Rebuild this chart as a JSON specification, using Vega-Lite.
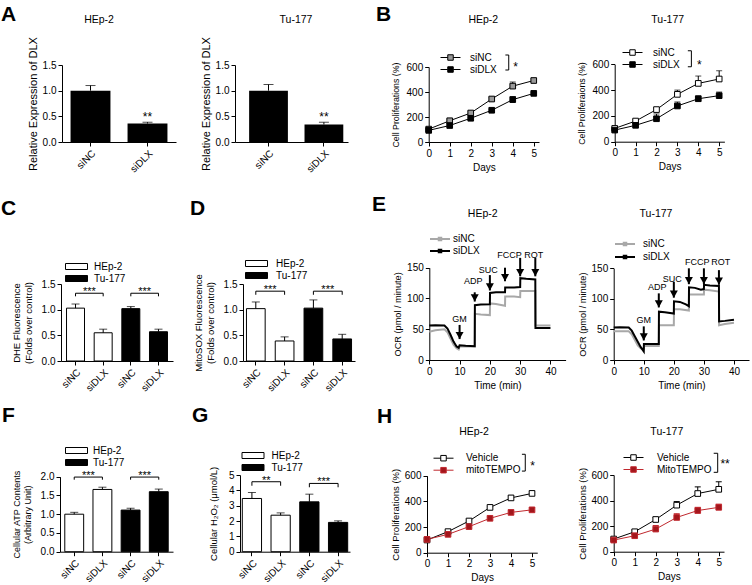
{
"$schema": "https://vega.github.io/schema/vega-lite/v6.json",
"padding": 0,
"background": "white",
"spacing": 0,
"resolve": {"scale": {"x":"independent","y":"independent","fill":"independent","stroke":"independent","color":"independent","shape":"independent","size":"independent","opacity":"independent"}},
"vconcat": [
{
"bounds": "flush", "spacing": 0,
"resolve": {"scale": {"x":"independent","y":"independent","fill":"independent","stroke":"independent","color":"independent","shape":"independent","size":"independent","opacity":"independent"}},
"hconcat": [
{"width":0.01,"height":192,"data":{"values":[]},"mark":"point","title":{"text":"A","anchor":"start","fontSize":21,"fontWeight":"bold","dx":1,"offset":-25.4}},
{"width":187,"height":192,
 "title":{"text":"HEp-2","dx":4.5,"offset":-25.2},
 "data":{"values":[{"grp":"siNC","v":1.0,"hi":1.1,"sig":""},{"grp":"siDLX","v":0.36,"hi":0.385,"sig":"**"}]},
 "encoding":{
  "x":{"field":"grp","type":"nominal","scale":{"domain":["siNC","siDLX"],"range":[61,175],"paddingInner":0.3,"paddingOuter":0.15},"axis":{"title":null,"labelAngle":-45,"offset":-50}},
  "y":{"field":"v","type":"quantitative","scale":{"domain":[0,1.5],"range":[142,65],"nice":false},"axis":{"title":"Relative Expression of DLX","values":[0,0.5,1,1.5],"format":".1f","offset":-61,"titleFontSize":11}}},
 "layer":[
  {"mark":{"type":"bar","color":"#000"}},
  {"mark":{"type":"rule","color":"#000"},"encoding":{"y2":{"field":"hi"}}},
  {"mark":{"type":"tick","color":"#000","size":10,"thickness":1},"encoding":{"y":{"field":"hi","type":"quantitative","scale":{"domain":[0,1.5],"range":[142,65],"nice":false},"axis":{"title":"Relative Expression of DLX","values":[0,0.5,1,1.5],"format":".1f","offset":-61,"titleFontSize":11}}}},
  {"mark":{"type":"text","baseline":"middle","dy":-5,"fontSize":12},"encoding":{"y":{"field":"hi","type":"quantitative","scale":{"domain":[0,1.5],"range":[142,65],"nice":false},"axis":{"title":"Relative Expression of DLX","values":[0,0.5,1,1.5],"format":".1f","offset":-61,"titleFontSize":11}},"text":{"field":"sig"}}}
 ]},
{"width":183,"height":192,
 "title":{"text":"Tu-177","dx":16.5,"offset":-25.2},
 "data":{"values":[{"grp":"siNC","v":1.0,"hi":1.12,"sig":""},{"grp":"siDLX","v":0.34,"hi":0.385,"sig":"**"}]},
 "encoding":{
  "x":{"field":"grp","type":"nominal","scale":{"domain":["siNC","siDLX"],"range":[47,160],"paddingInner":0.3,"paddingOuter":0.17,"align":0.75},"axis":{"title":null,"labelAngle":-45,"offset":-50}},
  "y":{"field":"v","type":"quantitative","scale":{"domain":[0,1.5],"range":[142,65],"nice":false},"axis":{"title":"Relative Expression of DLX","values":[0,0.5,1,1.5],"format":".1f","offset":-47,"titleFontSize":11}}},
 "layer":[
  {"mark":{"type":"bar","color":"#000"}},
  {"mark":{"type":"rule","color":"#000"},"encoding":{"y2":{"field":"hi"}}},
  {"mark":{"type":"tick","color":"#000","size":10,"thickness":1},"encoding":{"y":{"field":"hi","type":"quantitative","scale":{"domain":[0,1.5],"range":[142,65],"nice":false},"axis":{"title":"Relative Expression of DLX","values":[0,0.5,1,1.5],"format":".1f","offset":-47,"titleFontSize":11}}}},
  {"mark":{"type":"text","baseline":"middle","dy":-5,"fontSize":12},"encoding":{"y":{"field":"hi","type":"quantitative","scale":{"domain":[0,1.5],"range":[142,65],"nice":false},"axis":{"title":"Relative Expression of DLX","values":[0,0.5,1,1.5],"format":".1f","offset":-47,"titleFontSize":11}},"text":{"field":"sig"}}}
 ]},
{"width":0.01,"height":192,"data":{"values":[]},"mark":"point","title":{"text":"B","anchor":"start","fontSize":21,"fontWeight":"bold","dx":5,"offset":-25.4}},
{"width":190,"height":192,
 "title":{"text":"HEp-2","dx":16.3,"offset":-25.2},
 "data":{"values":[
  {"day":0,"g":"siNC","v":103,"hi":110},{"day":1,"g":"siNC","v":170,"hi":178},{"day":2,"g":"siNC","v":232,"hi":242},{"day":3,"g":"siNC","v":344,"hi":354},{"day":4,"g":"siNC","v":447,"hi":480},{"day":5,"g":"siNC","v":492,"hi":505},
  {"day":0,"g":"siDLX","v":93,"hi":98},{"day":1,"g":"siDLX","v":132,"hi":137},{"day":2,"g":"siDLX","v":190,"hi":196},{"day":3,"g":"siDLX","v":254,"hi":259},{"day":4,"g":"siDLX","v":339,"hi":364},{"day":5,"g":"siDLX","v":389,"hi":395}]},
 "encoding":{
  "x":{"field":"day","type":"quantitative","scale":{"domain":[0,5.25],"range":[56.7,167],"nice":false,"zero":false},"axis":{"title":"Days","values":[0,1,2,3,4,5],"format":"d","offset":-50,"titleFontSize":10}},
  "y":{"field":"v","type":"quantitative","scale":{"domain":[0,600],"range":[142,67],"nice":false},"axis":{"title":"Cell Proliferations (%)","values":[0,200,400,600],"offset":-56.7,"titlePadding":6,"titleFontSize":8.8}}},
 "layer":[
  {"mark":{"type":"line","color":"#000","strokeWidth":1},"encoding":{"detail":{"field":"g","type":"nominal"}}},
  {"mark":{"type":"rule","color":"#000"},"encoding":{"y2":{"field":"hi"}}},
  {"mark":{"type":"tick","orient":"horizontal","color":"#000","size":6,"thickness":1},"encoding":{"y":{"field":"hi","type":"quantitative","scale":{"domain":[0,600],"range":[142,67],"nice":false},"axis":{"title":"Cell Proliferations (%)","values":[0,200,400,600],"offset":-56.7,"titlePadding":6,"titleFontSize":8.8}}}},
  {"mark":{"type":"point","shape":"square","size":32,"filled":true,"opacity":1,"stroke":"#000","strokeWidth":1},"encoding":{"fill":{"field":"g","type":"nominal","scale":{"domain":["siNC","siDLX"],"range":["#999999","#000000"]},"legend":{"title":null,"orient":"none","legendX":73,"legendY":52,"symbolType":"M-2,0H-0.55M0.55,0H2M-0.55,-0.55H0.55V0.55H-0.55Z","symbolStrokeColor":"#000","symbolStrokeWidth":1,"labelOffset":14}}}},
  {"data":{"values":[{"day":3.65,"v":696,"o":1},{"day":3.81,"v":696,"o":2},{"day":3.81,"v":576,"o":3},{"day":3.65,"v":576,"o":4}]},"mark":{"type":"line","color":"#000","strokeWidth":1},"encoding":{"order":{"field":"o","type":"quantitative"}}},
  {"data":{"values":[{"day":4.02,"v":600,"s":"*"}]},"mark":{"type":"text","align":"left","baseline":"middle","fontSize":12},"encoding":{"text":{"field":"s"}}}
 ]},
{"width":192,"height":192,
 "title":{"text":"Tu-177","dx":9.7,"offset":-25.2},
 "data":{"values":[
  {"day":0,"g":"siNC","v":103,"hi":108},{"day":1,"g":"siNC","v":160,"hi":172},{"day":2,"g":"siNC","v":249,"hi":262},{"day":3,"g":"siNC","v":367,"hi":400},{"day":4,"g":"siNC","v":452,"hi":509},{"day":5,"g":"siNC","v":486,"hi":550},
  {"day":0,"g":"siDLX","v":90,"hi":95},{"day":1,"g":"siDLX","v":127,"hi":132},{"day":2,"g":"siDLX","v":178,"hi":215},{"day":3,"g":"siDLX","v":277,"hi":308},{"day":4,"g":"siDLX","v":333,"hi":355},{"day":5,"g":"siDLX","v":357,"hi":385}]},
 "encoding":{
  "x":{"field":"day","type":"quantitative","scale":{"domain":[0,5.25],"range":[52.7,162.4],"nice":false,"zero":false},"axis":{"title":"Days","values":[0,1,2,3,4,5],"format":"d","offset":-50.3,"titleFontSize":10}},
  "y":{"field":"v","type":"quantitative","scale":{"domain":[0,600],"range":[141.7,64.3],"nice":false},"axis":{"title":"Cell Proliferaions (%)","values":[0,200,400,600],"offset":-52.7,"titlePadding":6,"titleFontSize":8.8}}},
 "layer":[
  {"mark":{"type":"line","color":"#000","strokeWidth":1},"encoding":{"detail":{"field":"g","type":"nominal"}}},
  {"mark":{"type":"rule","color":"#000"},"encoding":{"y2":{"field":"hi"}}},
  {"mark":{"type":"tick","orient":"horizontal","color":"#000","size":6,"thickness":1},"encoding":{"y":{"field":"hi","type":"quantitative","scale":{"domain":[0,600],"range":[141.7,64.3],"nice":false},"axis":{"title":"Cell Proliferaions (%)","values":[0,200,400,600],"offset":-52.7,"titlePadding":6,"titleFontSize":8.8}}}},
  {"mark":{"type":"point","shape":"square","size":32,"filled":true,"opacity":1,"stroke":"#000","strokeWidth":1},"encoding":{"fill":{"field":"g","type":"nominal","scale":{"domain":["siNC","siDLX"],"range":["#ffffff","#000000"]},"legend":{"title":null,"orient":"none","legendX":65,"legendY":47,"symbolType":"M-2,0H-0.55M0.55,0H2M-0.55,-0.55H0.55V0.55H-0.55Z","symbolStrokeColor":"#000","symbolStrokeWidth":1,"labelOffset":15}}}},
  {"data":{"values":[{"day":3.5,"v":705,"o":1},{"day":3.67,"v":705,"o":2},{"day":3.67,"v":581,"o":3},{"day":3.5,"v":581,"o":4}]},"mark":{"type":"line","color":"#000","strokeWidth":1},"encoding":{"order":{"field":"o","type":"quantitative"}}},
  {"data":{"values":[{"day":3.94,"v":594,"s":"*"}]},"mark":{"type":"text","align":"left","baseline":"middle","fontSize":12},"encoding":{"text":{"field":"s"}}}
 ]}
]
},
{
"bounds": "flush", "spacing": 0,
"resolve": {"scale": {"x":"independent","y":"independent","fill":"independent","stroke":"independent","color":"independent","shape":"independent","size":"independent","opacity":"independent"}},
"hconcat": [
{"width":187,"height":209,
 "title":{"text":"C","anchor":"start","fontSize":21,"fontWeight":"bold","dx":1,"offset":-27.4},
 "data":{"values":[{"bar":"HEp-2 siNC","cell":"HEp-2","v":1.03,"hi":1.11},{"bar":"HEp-2 siDLX","cell":"HEp-2","v":0.55,"hi":0.62},{"bar":"Tu-177 siNC","cell":"Tu-177","v":1.02,"hi":1.06},{"bar":"Tu-177 siDLX","cell":"Tu-177","v":0.57,"hi":0.62}]},
 "encoding":{
  "x":{"field":"bar","type":"nominal","scale":{"domain":["HEp-2 siNC","HEp-2 siDLX","Tu-177 siNC","Tu-177 siDLX"],"range":[61,173],"paddingInner":0.35,"paddingOuter":0.2},"axis":{"title":null,"labelAngle":-45,"offset":-40,"labelExpr":"split(datum.label,' ')[1]"}},
  "y":{"field":"v","type":"quantitative","scale":{"domain":[0,1.5],"range":[169,92],"nice":false},"axis":{"title":["DHE Fluorescence","(Folds over control)"],"values":[0,0.5,1,1.5],"format":".1f","offset":-61,"titlePadding":8}}},
 "layer":[
  {"mark":{"type":"bar","stroke":"#000","strokeWidth":1},"encoding":{"fill":{"field":"cell","type":"nominal","scale":{"domain":["HEp-2","Tu-177"],"range":["#ffffff","#000000"]},"legend":{"title":null,"orient":"none","legendX":71,"legendY":69,"symbolType":"M-2.2,-0.6H2.2V0.6H-2.2Z","symbolStrokeColor":"#000","symbolStrokeWidth":1,"labelOffset":12}}}},
  {"mark":{"type":"rule","color":"#000"},"encoding":{"y2":{"field":"hi"}}},
  {"mark":{"type":"tick","color":"#000","size":8,"thickness":1},"encoding":{"y":{"field":"hi","type":"quantitative","scale":{"domain":[0,1.5],"range":[169,92],"nice":false},"axis":{"title":["DHE Fluorescence","(Folds over control)"],"values":[0,0.5,1,1.5],"format":".1f","offset":-61,"titlePadding":8}}}},
  {"data":{"values":[{"bar":"HEp-2 siNC","b":"HEp-2 siDLX","v":1.32,"lo":1.26,"s":"***"},{"bar":"Tu-177 siNC","b":"Tu-177 siDLX","v":1.32,"lo":1.26,"s":"***"}]},
   "layer":[
    {"mark":{"type":"rule","color":"#000"},"encoding":{"x2":{"field":"b"}}},
    {"mark":{"type":"rule","color":"#000"},"encoding":{"y2":{"field":"lo"}}},
    {"mark":{"type":"rule","color":"#000"},"encoding":{"x":{"field":"b","type":"nominal","scale":{"domain":["HEp-2 siNC","HEp-2 siDLX","Tu-177 siNC","Tu-177 siDLX"],"range":[61,173],"paddingInner":0.35,"paddingOuter":0.2},"axis":{"title":null,"labelAngle":-45,"offset":-40,"labelExpr":"split(datum.label,' ')[1]"}},"y2":{"field":"lo"}}},
    {"mark":{"type":"text","baseline":"middle","dy":-1,"fontSize":11},"encoding":{"x":{"field":"bar","type":"nominal","bandPosition":1.269,"scale":{"domain":["HEp-2 siNC","HEp-2 siDLX","Tu-177 siNC","Tu-177 siDLX"],"range":[61,173],"paddingInner":0.35,"paddingOuter":0.2},"axis":{"title":null,"labelAngle":-45,"offset":-40,"labelExpr":"split(datum.label,' ')[1]"}},"text":{"field":"s"}}}
   ]}
 ]},
{"width":183,"height":209,
 "title":{"text":"D","anchor":"start","fontSize":21,"fontWeight":"bold","dx":3,"offset":-27.4},
 "data":{"values":[{"bar":"HEp-2 siNC","cell":"HEp-2","v":1.02,"hi":1.15},{"bar":"HEp-2 siDLX","cell":"HEp-2","v":0.39,"hi":0.47},{"bar":"Tu-177 siNC","cell":"Tu-177","v":1.03,"hi":1.19},{"bar":"Tu-177 siDLX","cell":"Tu-177","v":0.43,"hi":0.52}]},
 "encoding":{
  "x":{"field":"bar","type":"nominal","scale":{"domain":["HEp-2 siNC","HEp-2 siDLX","Tu-177 siNC","Tu-177 siDLX"],"range":[56,168],"paddingInner":0.35,"paddingOuter":0.12},"axis":{"title":null,"labelAngle":-45,"offset":-40,"labelExpr":"split(datum.label,' ')[1]"}},
  "y":{"field":"v","type":"quantitative","scale":{"domain":[0,1.5],"range":[169,92],"nice":false},"axis":{"title":["MitoSOX Fluorescence","(Folds over control)"],"values":[0,0.5,1,1.5],"format":".1f","offset":-56,"titlePadding":8}}},
 "layer":[
  {"mark":{"type":"bar","stroke":"#000","strokeWidth":1},"encoding":{"fill":{"field":"cell","type":"nominal","scale":{"domain":["HEp-2","Tu-177"],"range":["#ffffff","#000000"]},"legend":{"title":null,"orient":"none","legendX":64,"legendY":66,"symbolType":"M-2.2,-0.6H2.2V0.6H-2.2Z","symbolStrokeColor":"#000","symbolStrokeWidth":1,"labelOffset":14}}}},
  {"mark":{"type":"rule","color":"#000"},"encoding":{"y2":{"field":"hi"}}},
  {"mark":{"type":"tick","color":"#000","size":8,"thickness":1},"encoding":{"y":{"field":"hi","type":"quantitative","scale":{"domain":[0,1.5],"range":[169,92],"nice":false},"axis":{"title":["MitoSOX Fluorescence","(Folds over control)"],"values":[0,0.5,1,1.5],"format":".1f","offset":-56,"titlePadding":8}}}},
  {"data":{"values":[{"bar":"HEp-2 siNC","b":"HEp-2 siDLX","v":1.36,"lo":1.29,"s":"***"},{"bar":"Tu-177 siNC","b":"Tu-177 siDLX","v":1.36,"lo":1.29,"s":"***"}]},
   "layer":[
    {"mark":{"type":"rule","color":"#000"},"encoding":{"x2":{"field":"b"}}},
    {"mark":{"type":"rule","color":"#000"},"encoding":{"y2":{"field":"lo"}}},
    {"mark":{"type":"rule","color":"#000"},"encoding":{"x":{"field":"b","type":"nominal","scale":{"domain":["HEp-2 siNC","HEp-2 siDLX","Tu-177 siNC","Tu-177 siDLX"],"range":[56,168],"paddingInner":0.35,"paddingOuter":0.12},"axis":{"title":null,"labelAngle":-45,"offset":-40,"labelExpr":"split(datum.label,' ')[1]"}},"y2":{"field":"lo"}}},
    {"mark":{"type":"text","baseline":"middle","dy":-1,"fontSize":11},"encoding":{"x":{"field":"bar","type":"nominal","bandPosition":1.269,"scale":{"domain":["HEp-2 siNC","HEp-2 siDLX","Tu-177 siNC","Tu-177 siDLX"],"range":[56,168],"paddingInner":0.35,"paddingOuter":0.12},"axis":{"title":null,"labelAngle":-45,"offset":-40,"labelExpr":"split(datum.label,' ')[1]"}},"text":{"field":"s"}}}
   ]}
 ]},
{"width":0.01,"height":209,"data":{"values":[]},"mark":"point","title":{"text":"E","anchor":"start","fontSize":21,"fontWeight":"bold","dx":2,"offset":-23.4}},
{"width":190,"height":209,
 "title":{"text":"HEp-2","dx":16.7,"offset":-27.9},
 "data":{"values":[
  {"g":"siNC","t":0,"v":46},{"g":"siNC","t":2,"v":48.5},{"g":"siNC","t":5,"v":50},{"g":"siNC","t":6,"v":45},{"g":"siNC","t":7,"v":35},{"g":"siNC","t":8,"v":25},{"g":"siNC","t":9,"v":19},{"g":"siNC","t":9.7,"v":17},{"g":"siNC","t":10,"v":22},{"g":"siNC","t":12,"v":22},{"g":"siNC","t":15,"v":22},{"g":"siNC","t":15.05,"v":75},{"g":"siNC","t":17,"v":74},{"g":"siNC","t":20,"v":73},{"g":"siNC","t":20.05,"v":92},{"g":"siNC","t":22,"v":91},{"g":"siNC","t":25,"v":88},{"g":"siNC","t":25.05,"v":103},{"g":"siNC","t":28,"v":103},{"g":"siNC","t":30,"v":102},{"g":"siNC","t":30.05,"v":112},{"g":"siNC","t":32,"v":112},{"g":"siNC","t":35,"v":112},{"g":"siNC","t":35.05,"v":56},{"g":"siNC","t":37,"v":56},{"g":"siNC","t":40,"v":56},
  {"g":"siDLX","t":0,"v":56},{"g":"siDLX","t":2,"v":56.5},{"g":"siDLX","t":5,"v":56},{"g":"siDLX","t":6,"v":51},{"g":"siDLX","t":7,"v":41},{"g":"siDLX","t":8,"v":30},{"g":"siDLX","t":9,"v":22},{"g":"siDLX","t":9.7,"v":20},{"g":"siDLX","t":10,"v":24},{"g":"siDLX","t":12,"v":23},{"g":"siDLX","t":15,"v":22.5},{"g":"siDLX","t":15.05,"v":89},{"g":"siDLX","t":17,"v":90},{"g":"siDLX","t":20,"v":90.5},{"g":"siDLX","t":20.05,"v":109},{"g":"siDLX","t":22,"v":110},{"g":"siDLX","t":25,"v":110},{"g":"siDLX","t":25.05,"v":118},{"g":"siDLX","t":28,"v":118},{"g":"siDLX","t":30,"v":118.5},{"g":"siDLX","t":30.05,"v":133},{"g":"siDLX","t":32,"v":132},{"g":"siDLX","t":35,"v":131},{"g":"siDLX","t":35.05,"v":52},{"g":"siDLX","t":37,"v":52},{"g":"siDLX","t":40,"v":52}]},
 "encoding":{
  "x":{"field":"t","type":"quantitative","scale":{"domain":[0,45],"range":[58.3,194.6],"nice":false,"zero":false},"axis":{"title":"Time (min)","values":[0,10,20,30,40],"offset":-41,"titleFontSize":10}},
  "y":{"field":"v","type":"quantitative","scale":{"domain":[0,150],"range":[168,75.7],"nice":false},"axis":{"title":"OCR (pmol / minute)","values":[0,50,100,150],"offset":-58.3,"titleFontSize":9.2}}},
 "layer":[
  {"mark":{"type":"line","strokeWidth":2},"encoding":{"stroke":{"field":"g","type":"nominal","scale":{"domain":["siNC","siDLX"],"range":["#a8a8a8","#000000"]},"legend":{"title":null,"orient":"none","legendX":63,"legendY":41,"symbolType":"M-2,0H2M-0.25,-0.25H0.25V0.25H-0.25Z","symbolStrokeWidth":2,"labelOffset":7,"rowPadding":0}}}},
  {"data":{"values":[{"t":10,"v":34,"top":57},{"t":15,"v":95,"top":110},{"t":20,"v":113,"top":138},{"t":25,"v":128,"top":150},{"t":30,"v":136,"top":166},{"t":35,"v":136,"top":166}]},
   "layer":[
    {"mark":{"type":"rule","color":"#000","strokeWidth":2},"encoding":{"y2":{"field":"top"}}},
    {"mark":{"type":"point","shape":"M-0.5,-0.9L0.5,-0.9L0,0Z","size":256,"filled":true,"color":"#000","opacity":1}}
   ]},
  {"data":{"values":[{"t":10,"v":66,"lab":"GM"},{"t":14.5,"v":128,"lab":"ADP"},{"t":19.5,"v":146,"lab":"SUC"},{"t":26.5,"v":171,"lab":"FCCP"},{"t":34.5,"v":171,"lab":"ROT"}]},
   "mark":{"type":"text","baseline":"middle","fontSize":9},"encoding":{"text":{"field":"lab"}}}
 ]},
{"width":192,"height":209,
 "title":{"text":"Tu-177","dx":-1,"offset":-27.9},
 "data":{"values":[
  {"g":"siNC","t":0,"v":47},{"g":"siNC","t":2,"v":47},{"g":"siNC","t":5,"v":47},{"g":"siNC","t":6,"v":42},{"g":"siNC","t":7,"v":33},{"g":"siNC","t":8,"v":24},{"g":"siNC","t":9,"v":19},{"g":"siNC","t":10,"v":18},{"g":"siNC","t":10.05,"v":23},{"g":"siNC","t":12,"v":23},{"g":"siNC","t":15,"v":23},{"g":"siNC","t":15.05,"v":57},{"g":"siNC","t":17,"v":57},{"g":"siNC","t":20,"v":57},{"g":"siNC","t":20.05,"v":83},{"g":"siNC","t":22,"v":83},{"g":"siNC","t":25,"v":81},{"g":"siNC","t":25.05,"v":107},{"g":"siNC","t":27,"v":107},{"g":"siNC","t":30,"v":107},{"g":"siNC","t":30.05,"v":115},{"g":"siNC","t":32,"v":114},{"g":"siNC","t":35,"v":112},{"g":"siNC","t":35.05,"v":57},{"g":"siNC","t":37,"v":59},{"g":"siNC","t":40,"v":61},
  {"g":"siDLX","t":0,"v":53},{"g":"siDLX","t":2,"v":53.5},{"g":"siDLX","t":5,"v":53},{"g":"siDLX","t":6,"v":48},{"g":"siDLX","t":7,"v":39},{"g":"siDLX","t":8,"v":30},{"g":"siDLX","t":9,"v":21},{"g":"siDLX","t":10,"v":14},{"g":"siDLX","t":10.05,"v":26},{"g":"siDLX","t":12,"v":26},{"g":"siDLX","t":15,"v":26},{"g":"siDLX","t":15.05,"v":79},{"g":"siDLX","t":17,"v":78},{"g":"siDLX","t":20,"v":76},{"g":"siDLX","t":20.05,"v":96},{"g":"siDLX","t":22,"v":95},{"g":"siDLX","t":24,"v":91},{"g":"siDLX","t":25,"v":88},{"g":"siDLX","t":25.05,"v":119},{"g":"siDLX","t":27,"v":118},{"g":"siDLX","t":29,"v":115},{"g":"siDLX","t":30,"v":116},{"g":"siDLX","t":30.05,"v":123},{"g":"siDLX","t":32,"v":122},{"g":"siDLX","t":35,"v":121},{"g":"siDLX","t":35.05,"v":63},{"g":"siDLX","t":37,"v":64},{"g":"siDLX","t":40,"v":66}]},
 "encoding":{
  "x":{"field":"t","type":"quantitative","scale":{"domain":[0,45],"range":[52.7,188],"nice":false,"zero":false},"axis":{"title":"Time (min)","values":[0,10,20,30,40],"offset":-41,"titleFontSize":10}},
  "y":{"field":"v","type":"quantitative","scale":{"domain":[0,150],"range":[168,76.3],"nice":false},"axis":{"title":"OCR (pmol / minute)","values":[0,50,100,150],"offset":-52.7,"titleFontSize":9.2}}},
 "layer":[
  {"mark":{"type":"line","strokeWidth":2},"encoding":{"stroke":{"field":"g","type":"nominal","scale":{"domain":["siNC","siDLX"],"range":["#a8a8a8","#000000"]},"legend":{"title":null,"orient":"none","legendX":58,"legendY":46,"symbolType":"M-2,0H2M-0.25,-0.25H0.25V0.25H-0.25Z","symbolStrokeWidth":2,"labelOffset":12}}}},
  {"data":{"values":[{"t":10,"v":32,"top":55},{"t":15,"v":86,"top":109},{"t":20,"v":102,"top":128},{"t":25,"v":124,"top":150},{"t":30,"v":124,"top":150},{"t":35,"v":123,"top":147}]},
   "layer":[
    {"mark":{"type":"rule","color":"#000","strokeWidth":2},"encoding":{"y2":{"field":"top"}}},
    {"mark":{"type":"point","shape":"M-0.5,-0.9L0.5,-0.9L0,0Z","size":256,"filled":true,"color":"#000","opacity":1}}
   ]},
  {"data":{"values":[{"t":10,"v":65,"lab":"GM"},{"t":14.5,"v":120,"lab":"ADP"},{"t":19.5,"v":133,"lab":"SUC"},{"t":27.8,"v":160,"lab":"FCCP"},{"t":35.6,"v":160,"lab":"ROT"}]},
   "mark":{"type":"text","baseline":"middle","fontSize":9},"encoding":{"text":{"field":"lab"}}}
 ]}
]
},
{
"bounds": "flush", "spacing": 0,
"resolve": {"scale": {"x":"independent","y":"independent","fill":"independent","stroke":"independent","color":"independent","shape":"independent","size":"independent","opacity":"independent"}},
"hconcat": [
{"width":187,"height":184,
 "title":{"text":"F","anchor":"start","fontSize":21,"fontWeight":"bold","dx":2,"offset":-25.4},
 "data":{"values":[{"bar":"HEp-2 siNC","cell":"HEp-2","v":1.0,"hi":1.05},{"bar":"HEp-2 siDLX","cell":"HEp-2","v":1.66,"hi":1.72},{"bar":"Tu-177 siNC","cell":"Tu-177","v":1.11,"hi":1.16},{"bar":"Tu-177 siDLX","cell":"Tu-177","v":1.6,"hi":1.67}]},
 "encoding":{
  "x":{"field":"bar","type":"nominal","scale":{"domain":["HEp-2 siNC","HEp-2 siDLX","Tu-177 siNC","Tu-177 siDLX"],"range":[60,173],"paddingInner":0.33,"paddingOuter":0.17},"axis":{"title":null,"labelAngle":-45,"offset":-33.3,"labelExpr":"split(datum.label,' ')[1]"}},
  "y":{"field":"v","type":"quantitative","scale":{"domain":[0,2],"range":[150.7,75.7],"nice":false},"axis":{"title":["Cellular ATP Contents","(Arbitrary Unit)"],"values":[0,0.5,1,1.5,2],"format":".1f","offset":-60,"titlePadding":8,"titleFontSize":9}}},
 "layer":[
  {"mark":{"type":"bar","stroke":"#000","strokeWidth":1},"encoding":{"fill":{"field":"cell","type":"nominal","scale":{"domain":["HEp-2","Tu-177"],"range":["#ffffff","#000000"]},"legend":{"title":null,"orient":"none","legendX":71,"legendY":44,"symbolType":"M-2.2,-0.6H2.2V0.6H-2.2Z","symbolStrokeColor":"#000","symbolStrokeWidth":1,"labelOffset":11}}}},
  {"mark":{"type":"rule","color":"#000"},"encoding":{"y2":{"field":"hi"}}},
  {"mark":{"type":"tick","color":"#000","size":8,"thickness":1},"encoding":{"y":{"field":"hi","type":"quantitative","scale":{"domain":[0,2],"range":[150.7,75.7],"nice":false},"axis":{"title":["Cellular ATP Contents","(Arbitrary Unit)"],"values":[0,0.5,1,1.5,2],"format":".1f","offset":-60,"titlePadding":8,"titleFontSize":9}}}},
  {"data":{"values":[{"bar":"HEp-2 siNC","b":"HEp-2 siDLX","v":1.99,"lo":1.92,"s":"***"},{"bar":"Tu-177 siNC","b":"Tu-177 siDLX","v":1.99,"lo":1.92,"s":"***"}]},
   "layer":[
    {"mark":{"type":"rule","color":"#000"},"encoding":{"x2":{"field":"b"}}},
    {"mark":{"type":"rule","color":"#000"},"encoding":{"y2":{"field":"lo"}}},
    {"mark":{"type":"rule","color":"#000"},"encoding":{"x":{"field":"b","type":"nominal","scale":{"domain":["HEp-2 siNC","HEp-2 siDLX","Tu-177 siNC","Tu-177 siDLX"],"range":[60,173],"paddingInner":0.33,"paddingOuter":0.17},"axis":{"title":null,"labelAngle":-45,"offset":-33.3,"labelExpr":"split(datum.label,' ')[1]"}},"y2":{"field":"lo"}}},
    {"mark":{"type":"text","baseline":"middle","dy":-1,"fontSize":11},"encoding":{"x":{"field":"bar","type":"nominal","bandPosition":1.246,"scale":{"domain":["HEp-2 siNC","HEp-2 siDLX","Tu-177 siNC","Tu-177 siDLX"],"range":[60,173],"paddingInner":0.33,"paddingOuter":0.17},"axis":{"title":null,"labelAngle":-45,"offset":-33.3,"labelExpr":"split(datum.label,' ')[1]"}},"text":{"field":"s"}}}
   ]}
 ]},
{"width":183,"height":184,
 "title":{"text":"G","anchor":"start","fontSize":21,"fontWeight":"bold","dx":5,"offset":-25.4},
 "data":{"values":[{"bar":"HEp-2 siNC","cell":"HEp-2","v":3.47,"hi":3.86},{"bar":"HEp-2 siDLX","cell":"HEp-2","v":2.38,"hi":2.53},{"bar":"Tu-177 siNC","cell":"Tu-177","v":3.25,"hi":3.75},{"bar":"Tu-177 siDLX","cell":"Tu-177","v":1.91,"hi":2.01}]},
 "encoding":{
  "x":{"field":"bar","type":"nominal","scale":{"domain":["HEp-2 siNC","HEp-2 siDLX","Tu-177 siNC","Tu-177 siDLX"],"range":[53,163],"paddingInner":0.33,"paddingOuter":0.08},"axis":{"title":null,"labelAngle":-45,"offset":-33.3,"labelExpr":"split(datum.label,' ')[1]"}},
  "y":{"field":"v","type":"quantitative","scale":{"domain":[0,5],"range":[150.7,74],"nice":false},"axis":{"title":"Cellular H₂O₂ (μmol/L)","values":[0,1,2,3,4,5],"format":"d","offset":-53,"titlePadding":10}}},
 "layer":[
  {"mark":{"type":"bar","stroke":"#000","strokeWidth":1},"encoding":{"fill":{"field":"cell","type":"nominal","scale":{"domain":["HEp-2","Tu-177"],"range":["#ffffff","#000000"]},"legend":{"title":null,"orient":"none","legendX":60.5,"legendY":49,"symbolType":"M-2.2,-0.6H2.2V0.6H-2.2Z","symbolStrokeColor":"#000","symbolStrokeWidth":1,"labelOffset":13}}}},
  {"mark":{"type":"rule","color":"#000"},"encoding":{"y2":{"field":"hi"}}},
  {"mark":{"type":"tick","color":"#000","size":8,"thickness":1},"encoding":{"y":{"field":"hi","type":"quantitative","scale":{"domain":[0,5],"range":[150.7,74],"nice":false},"axis":{"title":"Cellular H₂O₂ (μmol/L)","values":[0,1,2,3,4,5],"format":"d","offset":-53,"titlePadding":10}}}},
  {"data":{"values":[{"bar":"HEp-2 siNC","b":"HEp-2 siDLX","v":4.56,"lo":4.3,"s":"**"},{"bar":"Tu-177 siNC","b":"Tu-177 siDLX","v":4.45,"lo":4.2,"s":"***"}]},
   "layer":[
    {"mark":{"type":"rule","color":"#000"},"encoding":{"x2":{"field":"b"}}},
    {"mark":{"type":"rule","color":"#000"},"encoding":{"y2":{"field":"lo"}}},
    {"mark":{"type":"rule","color":"#000"},"encoding":{"x":{"field":"b","type":"nominal","scale":{"domain":["HEp-2 siNC","HEp-2 siDLX","Tu-177 siNC","Tu-177 siDLX"],"range":[53,163],"paddingInner":0.33,"paddingOuter":0.08},"axis":{"title":null,"labelAngle":-45,"offset":-33.3,"labelExpr":"split(datum.label,' ')[1]"}},"y2":{"field":"lo"}}},
    {"mark":{"type":"text","baseline":"middle","dy":-1,"fontSize":11},"encoding":{"x":{"field":"bar","type":"nominal","bandPosition":1.246,"scale":{"domain":["HEp-2 siNC","HEp-2 siDLX","Tu-177 siNC","Tu-177 siDLX"],"range":[53,163],"paddingInner":0.33,"paddingOuter":0.08},"axis":{"title":null,"labelAngle":-45,"offset":-33.3,"labelExpr":"split(datum.label,' ')[1]"}},"text":{"field":"s"}}}
   ]}
 ]},
{"width":0.01,"height":184,"data":{"values":[]},"mark":"point","title":{"text":"H","anchor":"start","fontSize":21,"fontWeight":"bold","dx":7,"offset":-26.4}},
{"width":190,"height":184,
 "title":{"text":"HEp-2","dx":8,"offset":-36.2},
 "data":{"values":[
  {"day":0,"g":"Vehicle","v":99,"hi":104},{"day":1,"g":"Vehicle","v":164,"hi":172},{"day":2,"g":"Vehicle","v":247,"hi":256},{"day":3,"g":"Vehicle","v":353,"hi":362},{"day":4,"g":"Vehicle","v":427,"hi":445},{"day":5,"g":"Vehicle","v":462,"hi":478},
  {"day":0,"g":"mitoTEMPO","v":104,"hi":109},{"day":1,"g":"mitoTEMPO","v":143,"hi":148},{"day":2,"g":"mitoTEMPO","v":203,"hi":210},{"day":3,"g":"mitoTEMPO","v":268,"hi":276},{"day":4,"g":"mitoTEMPO","v":314,"hi":330},{"day":5,"g":"mitoTEMPO","v":334,"hi":350}]},
 "encoding":{
  "x":{"field":"day","type":"quantitative","scale":{"domain":[0,5.25],"range":[56,166.25],"nice":false,"zero":false},"axis":{"title":"Days","values":[0,1,2,3,4,5],"format":"d","offset":-32.3,"titleFontSize":10}},
  "y":{"field":"v","type":"quantitative","scale":{"domain":[0,600],"range":[151.7,74.7],"nice":false},"axis":{"title":"Cell Proliferations (%)","values":[0,200,400,600],"offset":-56}}},
 "layer":[
  {"mark":{"type":"line","strokeWidth":1},"encoding":{"stroke":{"field":"g","type":"nominal","scale":{"domain":["Vehicle","mitoTEMPO"],"range":["#000000","#c0282e"]},"legend":{"title":null,"orient":"none","legendX":67,"legendY":51.7,"symbolType":"M-2,0H-0.55M0.55,0H2M-0.55,-0.55H0.55V0.55H-0.55Z","symbolStrokeWidth":1,"labelOffset":17}}}},
  {"mark":{"type":"rule","strokeWidth":1},"encoding":{"y2":{"field":"hi"},"stroke":{"field":"g","type":"nominal","scale":{"domain":["Vehicle","mitoTEMPO"],"range":["#000000","#c0282e"]},"legend":{"title":null,"orient":"none","legendX":67,"legendY":51.7,"symbolType":"M-2,0H-0.55M0.55,0H2M-0.55,-0.55H0.55V0.55H-0.55Z","symbolStrokeWidth":1,"labelOffset":17}}}},
  {"mark":{"type":"point","shape":"M-1,0H1","size":36,"filled":false,"opacity":1,"strokeWidth":1},"encoding":{"y":{"field":"hi","type":"quantitative","scale":{"domain":[0,600],"range":[151.7,74.7],"nice":false},"axis":{"title":"Cell Proliferations (%)","values":[0,200,400,600],"offset":-56}},"stroke":{"field":"g","type":"nominal","scale":{"domain":["Vehicle","mitoTEMPO"],"range":["#000000","#c0282e"]},"legend":{"title":null,"orient":"none","legendX":67,"legendY":51.7,"symbolType":"M-2,0H-0.55M0.55,0H2M-0.55,-0.55H0.55V0.55H-0.55Z","symbolStrokeWidth":1,"labelOffset":17}}}},
  {"mark":{"type":"point","shape":"square","size":32,"filled":true,"opacity":1,"strokeWidth":1},"encoding":{"stroke":{"field":"g","type":"nominal","scale":{"domain":["Vehicle","mitoTEMPO"],"range":["#000000","#c0282e"]},"legend":{"title":null,"orient":"none","legendX":67,"legendY":51.7,"symbolType":"M-2,0H-0.55M0.55,0H2M-0.55,-0.55H0.55V0.55H-0.55Z","symbolStrokeWidth":1,"labelOffset":17}},"fill":{"field":"g","type":"nominal","scale":{"domain":["Vehicle","mitoTEMPO"],"range":["#ffffff","#a3161c"]},"legend":{"title":null,"orient":"none","legendX":67,"legendY":51.7,"symbolType":"M-2,0H-0.55M0.55,0H2M-0.55,-0.55H0.55V0.55H-0.55Z","symbolStrokeWidth":1,"labelOffset":17}}}},
  {"data":{"values":[{"day":4.52,"v":767,"o":1},{"day":4.68,"v":767,"o":2},{"day":4.68,"v":636,"o":3},{"day":4.52,"v":636,"o":4}]},"mark":{"type":"line","color":"#000","strokeWidth":1},"encoding":{"order":{"field":"o","type":"quantitative"}}},
  {"data":{"values":[{"day":4.92,"v":678,"s":"*"}]},"mark":{"type":"text","align":"left","baseline":"middle","fontSize":12},"encoding":{"text":{"field":"s"}}}
 ]},
{"width":192,"height":184,
 "title":{"text":"Tu-177","dx":9.8,"offset":-36.2},
 "data":{"values":[
  {"day":0,"g":"Vehicle","v":99,"hi":105},{"day":1,"g":"Vehicle","v":156,"hi":168},{"day":2,"g":"Vehicle","v":252,"hi":268},{"day":3,"g":"Vehicle","v":364,"hi":392},{"day":4,"g":"Vehicle","v":455,"hi":507},{"day":5,"g":"Vehicle","v":488,"hi":547},
  {"day":0,"g":"MitoTEMPO","v":91,"hi":97},{"day":1,"g":"MitoTEMPO","v":125,"hi":131},{"day":2,"g":"MitoTEMPO","v":177,"hi":205},{"day":3,"g":"MitoTEMPO","v":268,"hi":297},{"day":4,"g":"MitoTEMPO","v":322,"hi":347},{"day":5,"g":"MitoTEMPO","v":347,"hi":372}]},
 "encoding":{
  "x":{"field":"day","type":"quantitative","scale":{"domain":[0,5.25],"range":[52.7,163],"nice":false,"zero":false},"axis":{"title":"Days","values":[0,1,2,3,4,5],"format":"d","offset":-33.3,"titleFontSize":10}},
  "y":{"field":"v","type":"quantitative","scale":{"domain":[0,600],"range":[150.7,74],"nice":false},"axis":{"title":"Cell Proliferations (%)","values":[0,200,400,600],"offset":-52.7}}},
 "layer":[
  {"mark":{"type":"line","strokeWidth":1},"encoding":{"stroke":{"field":"g","type":"nominal","scale":{"domain":["Vehicle","MitoTEMPO"],"range":["#000000","#c0282e"]},"legend":{"title":null,"orient":"none","legendX":67,"legendY":51,"symbolType":"M-2,0H-0.55M0.55,0H2M-0.55,-0.55H0.55V0.55H-0.55Z","symbolStrokeWidth":1,"labelOffset":18}}}},
  {"mark":{"type":"rule","strokeWidth":1},"encoding":{"y2":{"field":"hi"},"stroke":{"field":"g","type":"nominal","scale":{"domain":["Vehicle","MitoTEMPO"],"range":["#000000","#c0282e"]},"legend":{"title":null,"orient":"none","legendX":67,"legendY":51,"symbolType":"M-2,0H-0.55M0.55,0H2M-0.55,-0.55H0.55V0.55H-0.55Z","symbolStrokeWidth":1,"labelOffset":18}}}},
  {"mark":{"type":"point","shape":"M-1,0H1","size":36,"filled":false,"opacity":1,"strokeWidth":1},"encoding":{"y":{"field":"hi","type":"quantitative","scale":{"domain":[0,600],"range":[150.7,74],"nice":false},"axis":{"title":"Cell Proliferations (%)","values":[0,200,400,600],"offset":-52.7}},"stroke":{"field":"g","type":"nominal","scale":{"domain":["Vehicle","MitoTEMPO"],"range":["#000000","#c0282e"]},"legend":{"title":null,"orient":"none","legendX":67,"legendY":51,"symbolType":"M-2,0H-0.55M0.55,0H2M-0.55,-0.55H0.55V0.55H-0.55Z","symbolStrokeWidth":1,"labelOffset":18}}}},
  {"mark":{"type":"point","shape":"square","size":32,"filled":true,"opacity":1,"strokeWidth":1},"encoding":{"stroke":{"field":"g","type":"nominal","scale":{"domain":["Vehicle","MitoTEMPO"],"range":["#000000","#c0282e"]},"legend":{"title":null,"orient":"none","legendX":67,"legendY":51,"symbolType":"M-2,0H-0.55M0.55,0H2M-0.55,-0.55H0.55V0.55H-0.55Z","symbolStrokeWidth":1,"labelOffset":18}},"fill":{"field":"g","type":"nominal","scale":{"domain":["Vehicle","MitoTEMPO"],"range":["#ffffff","#a3161c"]},"legend":{"title":null,"orient":"none","legendX":67,"legendY":51,"symbolType":"M-2,0H-0.55M0.55,0H2M-0.55,-0.55H0.55V0.55H-0.55Z","symbolStrokeWidth":1,"labelOffset":18}}}},
  {"data":{"values":[{"day":4.76,"v":770,"o":1},{"day":4.95,"v":770,"o":2},{"day":4.95,"v":621,"o":3},{"day":4.76,"v":621,"o":4}]},"mark":{"type":"line","color":"#000","strokeWidth":1},"encoding":{"order":{"field":"o","type":"quantitative"}}},
  {"data":{"values":[{"day":5.08,"v":683,"s":"**"}]},"mark":{"type":"text","align":"left","baseline":"middle","fontSize":12},"encoding":{"text":{"field":"s"}}}
 ]}
]
}
],
"config": {
 "font": "Liberation Sans",
 "view": {"stroke": null},
 "axis": {"domainColor":"#000","tickColor":"#000","labelColor":"#000","titleColor":"#000","labelFontSize":10,"titleFontSize":9.5,"titleFontWeight":"normal","grid":false,"tickSize":4,"labelPadding":2,"titlePadding":4,"labelFlush":false,"labelOverlap":false,"domainWidth":1,"tickWidth":1},
 "legend": {"labelFontSize":10,"labelColor":"#000","padding":0,"rowPadding":1,"symbolSize":100},
 "title": {"fontSize":10.5,"fontWeight":"normal","color":"#000","frame":"group","anchor":"middle"},
 "text": {"font":"Liberation Sans","color":"#000"}
}
}
